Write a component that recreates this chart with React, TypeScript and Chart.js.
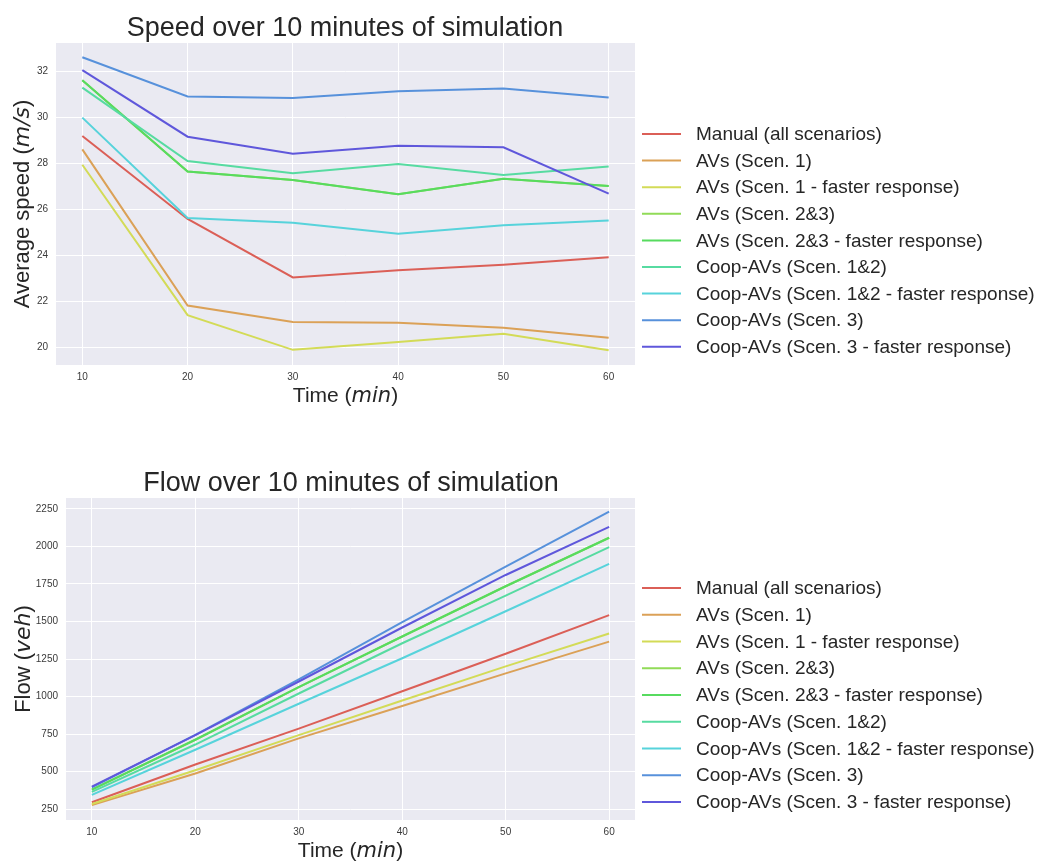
import React, { useEffect, useRef } from "react";
import { Chart, registerables } from "chart.js";

Chart.register(...registerables);

// ---------- data ----------
const times = [10, 20, 30, 40, 50, 60];
const timeTicks = [10, 20, 30, 40, 50, 60];
const speedTicks = [20, 22, 24, 26, 28, 30, 32];
const flowTicks = [250, 500, 750, 1000, 1250, 1500, 1750, 2000, 2250];

const seriesNames = [
  "Manual (all scenarios)",
  "AVs (Scen. 1)",
  "AVs (Scen. 1 - faster response)",
  "AVs (Scen. 2&3)",
  "AVs (Scen. 2&3 - faster response)",
  "Coop-AVs (Scen. 1&2)",
  "Coop-AVs (Scen. 1&2 - faster response)",
  "Coop-AVs (Scen. 3)",
  "Coop-AVs (Scen. 3 - faster response)",
];
const seriesColors = [
  "#db5f57",
  "#dba157",
  "#d3db57",
  "#91db57",
  "#57db5f",
  "#57dba1",
  "#57d3db",
  "#5791db",
  "#5f57db",
];

// speed (m/s)
const speedManual = [29.19, 25.58, 23.03, 23.35, 23.58, 23.91];
const speedAV1 = [28.61, 21.81, 21.09, 21.06, 20.84, 20.41];
const speedAV1Fast = [27.94, 21.39, 19.88, 20.22, 20.58, 19.86];
const speedAV23 = [31.62, 27.64, 27.28, 26.65, 27.33, 27.01];
const speedAV23Fast = [31.62, 27.64, 27.28, 26.65, 27.33, 27.01];
const speedCoop12 = [31.3, 28.1, 27.57, 27.97, 27.49, 27.86];
const speedCoop12Fast = [29.99, 25.62, 25.41, 24.93, 25.3, 25.51];
const speedCoop3 = [32.62, 30.91, 30.84, 31.14, 31.26, 30.87];
const speedCoop3Fast = [32.06, 29.16, 28.42, 28.77, 28.7, 26.68];

// flow (veh)
const flowManual = [295, 547, 786, 1035, 1285, 1542];
const flowAV1 = [276, 487, 721, 937, 1154, 1366];
const flowAV1Fast = [284, 509, 743, 973, 1201, 1420];
const flowAV23 = [380, 712, 1062, 1400, 1735, 2058];
const flowAV23Fast = [380, 712, 1062, 1400, 1735, 2058];
const flowCoop12 = [365, 680, 1020, 1355, 1672, 1995];
const flowCoop12Fast = [345, 645, 952, 1255, 1568, 1884];
const flowCoop3 = [395, 745, 1115, 1495, 1865, 2232];
const flowCoop3Fast = [400, 742, 1100, 1460, 1810, 2130];

const speedSeries = [
  speedManual, speedAV1, speedAV1Fast, speedAV23, speedAV23Fast,
  speedCoop12, speedCoop12Fast, speedCoop3, speedCoop3Fast,
];
const flowSeries = [
  flowManual, flowAV1, flowAV1Fast, flowAV23, flowAV23Fast,
  flowCoop12, flowCoop12Fast, flowCoop3, flowCoop3Fast,
];

// ---------- helpers ----------
const SANS = "'Liberation Sans', Arial, sans-serif";
const MATH = "'DejaVu Sans', sans-serif";
const TEXT = "#262626";

type Part = { t: string; i?: boolean };

function drawMixed(ctx: CanvasRenderingContext2D, parts: Part[], size: number) {
  const fonts = parts.map((p) => (p.i ? `italic ${size}px ${MATH}` : `${size}px ${SANS}`));
  let total = 0;
  const widths = parts.map((p, k) => {
    ctx.font = fonts[k];
    const w = ctx.measureText(p.t).width;
    total += w;
    return w;
  });
  let x = -total / 2;
  ctx.textAlign = "left";
  ctx.textBaseline = "alphabetic";
  parts.forEach((p, k) => {
    ctx.font = fonts[k];
    ctx.fillText(p.t, x, 0);
    x += widths[k];
  });
}

type Decor = {
  title: string;
  titleX: number;
  titleY: number;
  xLabel: Part[];
  xLabelY: number;
  yLabel: Part[];
  yLabelX: number;
  legendY: number;
  legendStep: number;
};

function makeDecor(d: Decor) {
  return {
    id: "decor",
    beforeDraw(chart: any) {
      const { ctx, chartArea } = chart;
      ctx.save();
      ctx.fillStyle = "#eaeaf2";
      ctx.fillRect(chartArea.left, chartArea.top, chartArea.right - chartArea.left, chartArea.bottom - chartArea.top);
      ctx.restore();
    },
    afterDraw(chart: any) {
      const { ctx, chartArea } = chart;
      ctx.save();
      ctx.fillStyle = TEXT;
      // title
      ctx.font = `27px ${SANS}`;
      ctx.textAlign = "center";
      ctx.textBaseline = "alphabetic";
      ctx.fillText(d.title, d.titleX, d.titleY);
      // x label
      ctx.save();
      ctx.translate((chartArea.left + chartArea.right) / 2, d.xLabelY);
      drawMixed(ctx, d.xLabel, 21);
      ctx.restore();
      // y label
      ctx.save();
      ctx.translate(d.yLabelX, (chartArea.top + chartArea.bottom) / 2);
      ctx.rotate(-Math.PI / 2);
      drawMixed(ctx, d.yLabel, 22);
      ctx.restore();
      // legend
      chart.data.datasets.forEach((ds: any, i: number) => {
        const y = d.legendY + i * d.legendStep;
        ctx.strokeStyle = ds.borderColor;
        ctx.lineWidth = 2;
        ctx.beginPath();
        ctx.moveTo(642, y);
        ctx.lineTo(681, y);
        ctx.stroke();
        ctx.fillStyle = TEXT;
        ctx.font = `19px ${SANS}`;
        ctx.textAlign = "left";
        ctx.textBaseline = "middle";
        ctx.fillText(ds.label, 696, y + 1);
      });
      ctx.restore();
    },
  };
}

function buildConfig(
  series: number[][],
  yTicks: number[],
  yMin: number,
  yMax: number,
  yWidth: number,
  padTop: number,
  xHeight: number,
  decor: Decor
): any {
  return {
    type: "line",
    data: {
      datasets: series.map((vals, i) => ({
        label: seriesNames[i],
        data: times.map((t, k) => ({ x: t, y: vals[k] })),
        borderColor: seriesColors[i],
        backgroundColor: seriesColors[i],
        borderWidth: 2,
        pointRadius: 0,
        tension: 0,
        fill: false,
        order: series.length - i,
      })),
    },
    options: {
      responsive: false,
      animation: false,
      events: [],
      layout: { padding: { top: padTop, left: 0, right: 403, bottom: 0 } },
      plugins: { legend: { display: false }, tooltip: { enabled: false }, title: { display: false } },
      scales: {
        x: {
          type: "linear",
          min: 7.5,
          max: 62.5,
          afterBuildTicks: (s: any) => {
            s.ticks = timeTicks.map((v) => ({ value: v }));
          },
          afterFit: (s: any) => {
            s.height = xHeight;
          },
          grid: { color: "#ffffff", lineWidth: 1, drawTicks: false },
          border: { display: false },
          ticks: {
            padding: 6,
            color: "#3a3a3a",
            font: { family: SANS, size: 10 },
            maxRotation: 0,
            callback: (v: any) => String(v),
          },
        },
        y: {
          type: "linear",
          min: yMin,
          max: yMax,
          afterBuildTicks: (s: any) => {
            s.ticks = yTicks.map((v) => ({ value: v }));
          },
          afterFit: (s: any) => {
            s.width = yWidth;
          },
          grid: { color: "#ffffff", lineWidth: 1, drawTicks: false },
          border: { display: false },
          ticks: {
            padding: 8,
            color: "#3a3a3a",
            font: { family: SANS, size: 10 },
            callback: (v: any) => String(v),
          },
        },
      },
    },
    plugins: [makeDecor(decor)],
  };
}

function ChartCanvas({ config, top }: { config: any; top: number }) {
  const ref = useRef<HTMLCanvasElement | null>(null);
  useEffect(() => {
    if (!ref.current) return;
    const chart = new Chart(ref.current, config);
    return () => chart.destroy();
  }, [config]);
  return (
    <canvas
      ref={ref}
      width={1038}
      height={431}
      style={{ position: "absolute", left: 0, top, width: 1038, height: 431 }}
    />
  );
}

const speedConfig = buildConfig(speedSeries, speedTicks, 19.22, 33.24, 56, 43, 66, {
  title: "Speed over 10 minutes of simulation",
  titleX: 345,
  titleY: 36,
  xLabel: [{ t: "Time (" }, { t: "min", i: true }, { t: ")" }],
  xLabelY: 402,
  yLabel: [{ t: "Average speed (" }, { t: "m/s", i: true }, { t: ")" }],
  yLabelX: 29,
  legendY: 134,
  legendStep: 26.6,
});

const flowConfig = buildConfig(flowSeries, flowTicks, 177, 2323, 66, 67, 42, {
  title: "Flow over 10 minutes of simulation",
  titleX: 351,
  titleY: 60,
  xLabel: [{ t: "Time (" }, { t: "min", i: true }, { t: ")" }],
  xLabelY: 426,
  yLabel: [{ t: "Flow (" }, { t: "veh", i: true }, { t: ")" }],
  yLabelX: 30,
  legendY: 157,
  legendStep: 26.75,
});

export default function App() {
  return (
    <div style={{ position: "absolute", left: 0, top: 0, width: 1038, height: 862, background: "#ffffff" }}>
      <ChartCanvas config={speedConfig} top={0} />
      <ChartCanvas config={flowConfig} top={431} />
    </div>
  );
}
